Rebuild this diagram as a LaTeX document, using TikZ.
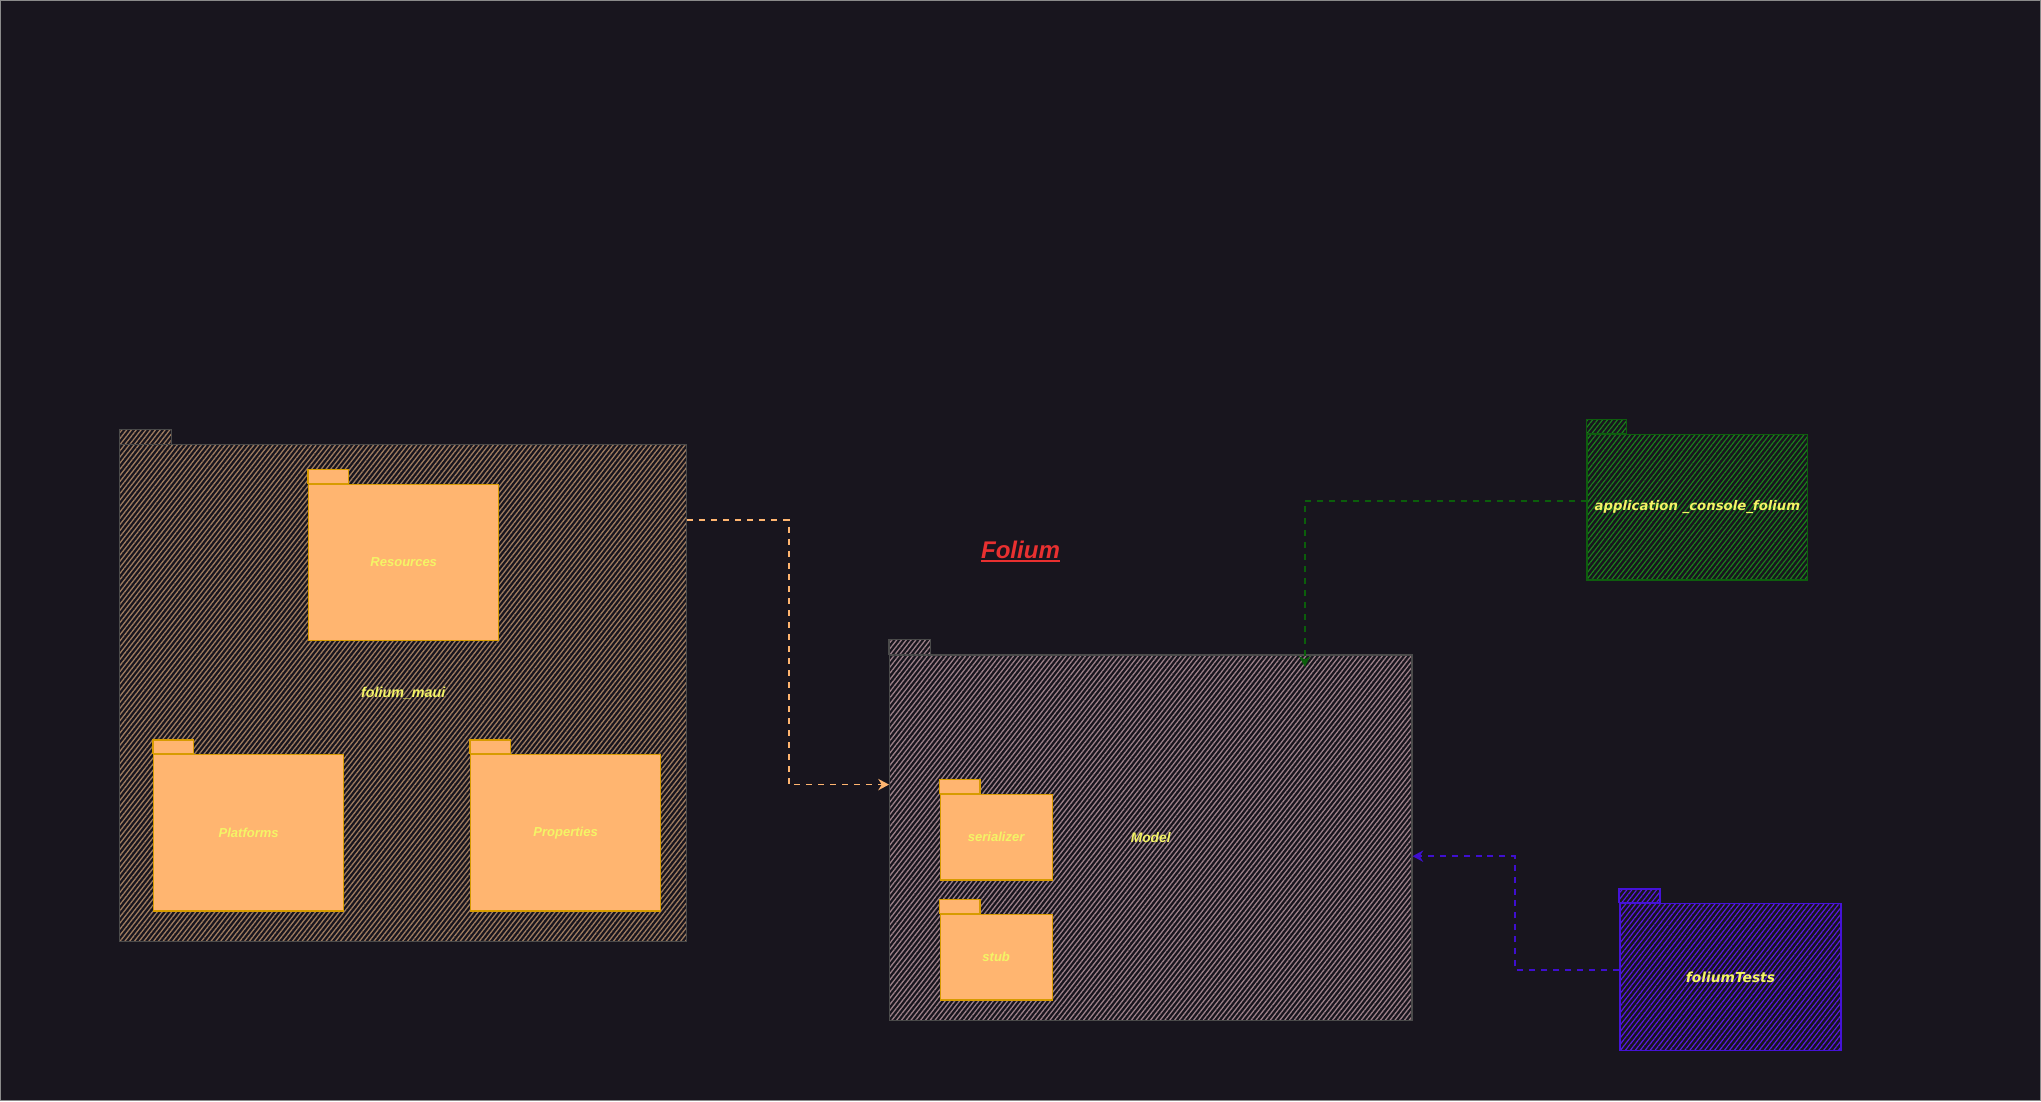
\documentclass[tikz,border=0pt]{standalone}
\usepackage{fontspec}
\setmainfont{Liberation Sans}
\newfontfamily\dejavu{DejaVu Sans}[BoldFont={DejaVu Sans Bold},ItalicFont={DejaVu Sans Oblique},BoldItalicFont={DejaVu Sans Bold Oblique}]
\usetikzlibrary{patterns.meta,arrows.meta,calc}
\definecolor{bgc}{HTML}{18151E}
\definecolor{framegrey}{HTML}{8A8A8A}
\definecolor{txtyellow}{HTML}{F4F466}
\definecolor{titlered}{HTML}{E83030}
\definecolor{folderfill}{HTML}{FFB570}
\definecolor{folderline}{HTML}{D79B00}
\definecolor{mauihatch}{HTML}{9E7C60}
\definecolor{modelhatch}{HTML}{9C8088}
\definecolor{greyline}{HTML}{4A4A4A}
\definecolor{apphatch}{HTML}{1C801C}
\definecolor{appline}{HTML}{0E5E0E}
\definecolor{testhatch}{HTML}{5A1AE0}
\definecolor{testline}{HTML}{4512D8}
\definecolor{arrgreen}{HTML}{0B5E0B}
\definecolor{arrblue}{HTML}{3F0FD0}
\begin{document}
\begin{tikzpicture}[x=1pt,y=-1pt,
  box/.style={rectangle,inner sep=0pt,text=txtyellow},
  lbl/.style={font=\bfseries\itshape\fontsize{#1}{#1}\selectfont},
  lbldv/.style={font=\dejavu\bfseries\itshape\fontsize{#1}{#1}\selectfont},
  hatchmaui/.style={draw=greyline,line width=0.9pt,pattern={Lines[angle=52,distance=2.9pt,line width=1pt]},pattern color=mauihatch},
  hatchmodel/.style={draw=greyline,line width=0.9pt,pattern={Lines[angle=52,distance=2.9pt,line width=1pt]},pattern color=modelhatch},
  hatchapp/.style={draw=appline,line width=1.2pt,pattern={Lines[angle=52,distance=3pt,line width=0.9pt]},pattern color=apphatch},
  hatchtest/.style={draw=testline,line width=1.2pt,pattern={Lines[angle=52,distance=3pt,line width=0.9pt]},pattern color=testhatch},
  folder/.style={fill=folderfill,draw=folderline,line width=0.9pt},
  deparrow/.style={dash pattern=on 4.6pt off 4.6pt,line width=1.4pt,-{Stealth[length=8.2pt,width=8.7pt,inset=2.6pt]}}
]
\fill[bgc] (0,0) rectangle (1568,845.85);
\useasboundingbox (0,0) rectangle (1568,845.85);
\draw[framegrey,line width=0.8pt] (0.4,0.4) rectangle (1567.6,845.45);

% folium_maui package
\node[box,hatchmaui,lbl=11,minimum width=435.5pt,minimum height=381.5pt] (maui) at (309.75,532.5) {folium\_maui};
\path[hatchmaui] (maui.north west) rectangle ++(40,-11);

% inner folders of folium_maui
\node[box,folder,lbl=10,minimum width=146.1pt,minimum height=120pt] (res) at (310.15,432.2) {Resources};
\path[folder] (res.north west) rectangle ++(31,-11);
\node[box,folder,lbl=10,minimum width=146.1pt,minimum height=120.3pt] (plat) at (191.05,639.75) {Platforms};
\path[folder] (plat.north west) rectangle ++(31,-10.6);
\node[box,folder,lbl=10,minimum width=146.1pt,minimum height=120.3pt] (prop) at (434.55,639.75) {Properties};
\path[folder] (prop.north west) rectangle ++(31,-10.6);

% Model package
\node[box,hatchmodel,lbl=10.6,minimum width=401.3pt,minimum height=280.9pt] (model) at (884.05,643.65) {Model};
\path[hatchmodel] (model.north west) rectangle ++(31.8,-11.5);
\node[box,folder,lbl=10,minimum width=86pt,minimum height=65.8pt] (ser) at (765.3,643.1) {serializer};
\path[folder] (ser.north west) rectangle ++(31,-11);
\node[box,folder,lbl=10,minimum width=86pt,minimum height=65.8pt] (stub) at (765.3,735.3) {stub};
\path[folder] (stub.north west) rectangle ++(31,-11);

% application_console_folium package
\node[box,hatchapp,lbldv=10.2,minimum width=169.3pt,minimum height=111.9pt] (app) at (1304.05,389.65) {application \_console\_folium};
\path[hatchapp] (app.north west) rectangle ++(30.7,-11);

% foliumTests package
\node[box,hatchtest,lbldv=10.6,minimum width=169.8pt,minimum height=113.2pt] (tests) at (1329.4,750.6) {foliumTests};
\path[hatchtest] (tests.north west) rectangle ++(31.5,-10.3);

% title
\node[inner sep=0pt,anchor=base,text=titlered,lbl=18.5] (title) at (784,429.4) {Folium};
\draw[titlered,line width=1.8pt] ($(title.base west)+(0,1.7)$) -- ($(title.base east)+(0,1.7)$);

% dependencies
\draw[deparrow,draw=folderfill] ($(maui.north east)+(0,58.5)$) -- ++(78,0) |- ($(model.north west)+(0,100)$);
\draw[deparrow,draw=arrgreen] ($(app.west)+(0,-5)$) -| ($(model.north west)+(319.4,9.5)$);
\draw[deparrow,draw=arrblue] ($(tests.west)+(0,-5.4)$) -- ++(-80,0) |- ($(model.north east)+(0,155)$);
\end{tikzpicture}
\end{document}
